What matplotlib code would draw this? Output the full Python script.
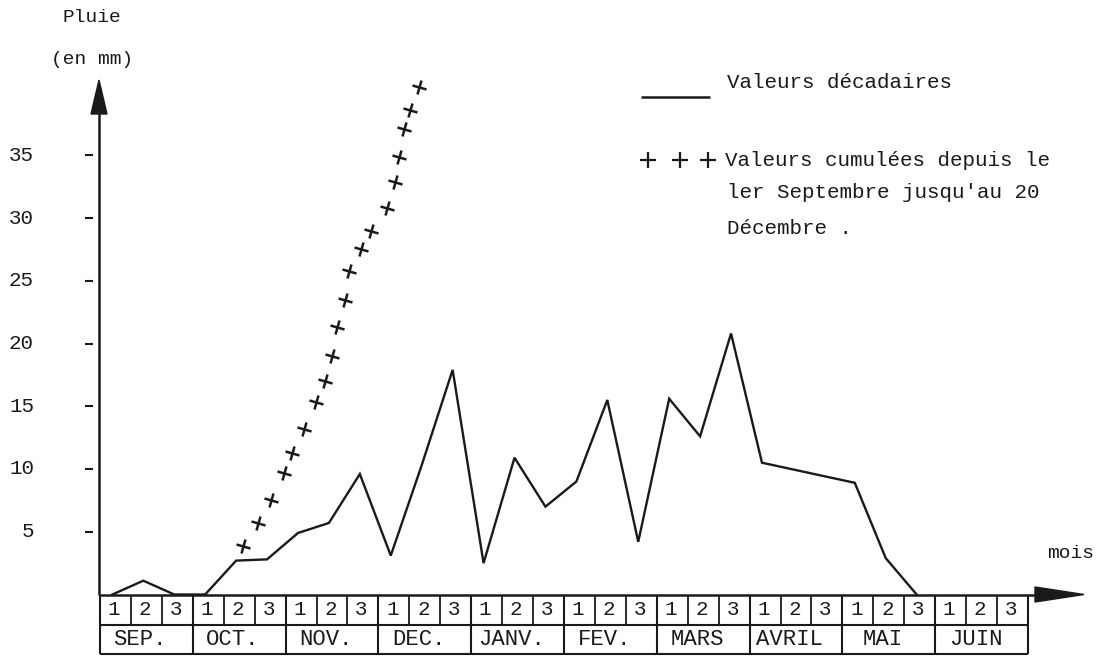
import numpy as np
import matplotlib
matplotlib.use("Agg")
import matplotlib.pyplot as plt
from matplotlib.transforms import Affine2D
from matplotlib.markers import MarkerStyle
from matplotlib.patches import Polygon

# ---------------- data ----------------
months = ["SEP.", "OCT.", "NOV.", "DEC.", "JANV.", "FEV.", "MARS", "AVRIL", "MAI", "JUIN"]
decade_labels = ["1", "2", "3"]
# 10-day rainfall (mm), Sep 1st decade .. June 3rd decade (None = not drawn)
decadal_mm = [0.0, 1.1, 0.0,      # SEP
              0.0, 2.7, 2.8,      # OCT
              4.9, 5.7, 9.6,      # NOV
              3.1, 10.3, 17.9,    # DEC
              2.5, 10.9, 7.0,     # JANV
              9.0, 15.5, 4.2,     # FEV
              15.6, 12.6, 20.8,   # MARS
              10.5, None, None,   # AVRIL
              8.9, 2.9, 0.0,      # MAI
              None, None, None]   # JUIN
# cumulated rainfall crosses (x in decades from 1 Sept, y in mm)
cum_x = [4.63, 5.12, 5.53, 5.95, 6.20, 6.61, 6.98, 7.27, 7.51, 7.67,
         7.92, 8.05, 8.44, 8.76, 9.27, 9.54, 9.68, 9.83, 10.02, 10.31]
cum_mm = [3.9, 5.7, 7.5, 9.7, 11.3, 13.2, 15.3, 17.0, 19.0, 21.3,
          23.5, 25.8, 27.5, 29.0, 30.8, 32.9, 34.9, 37.1, 38.6, 40.4]
yticks = [5, 10, 15, 20, 25, 30, 35]

# ---------------- layout ----------------
W, H = 1105, 656
FONT = "Liberation Mono"
INK = "#1a1a1a"
fig = plt.figure(figsize=(W / 100, H / 100), dpi=100)
fig.patch.set_facecolor("white")

X0, X1 = 100.0, 1028.0      # pixel x of decade 0 and decade 30
Y0, PXMM, YTOP = 594.5, 12.55, 80.0
n_dec = 3 * len(months)
ax = fig.add_axes([X0 / W, (H - Y0) / H, (X1 - X0) / W, (Y0 - YTOP) / H])
ax.set_xlim(0, n_dec)
ax.set_ylim(0, (Y0 - YTOP) / PXMM)
ax.axis("off")


def dx(px):
    return (px - X0) / (X1 - X0) * n_dec


def dy(py):
    return (Y0 - py) / PXMM


def line(xs, ys, lw=1.6, **kw):
    ax.plot(xs, ys, color=INK, lw=lw, clip_on=False, solid_capstyle="butt", **kw)


def txt(px, py, s, size=15, ha="center", va="center"):
    ax.text(dx(px), dy(py), s, fontsize=size, family=FONT, color=INK,
            ha=ha, va=va, clip_on=False)


# ---------------- axes with arrows ----------------
# y axis
line([dx(99), dx(99)], [0, dy(112)], lw=1.8)
ax.add_patch(Polygon([[dx(99), dy(80)], [dx(91), dy(114)], [dx(107), dy(114)]],
                     closed=True, facecolor=INK, edgecolor=INK, clip_on=False))
# x axis
line([0, dx(1040)], [0, 0], lw=1.8)
ax.add_patch(Polygon([[dx(1084), 0], [dx(1035), dy(587)], [dx(1035), dy(602)]],
                     closed=True, facecolor=INK, edgecolor=INK, clip_on=False))

# y ticks (detached dashes) and labels
for t in yticks:
    line([dx(85), dx(93)], [t, t], lw=1.5)
    txt(34, Y0 - t * PXMM, str(t), size=15, ha="right")

txt(92, 18, "Pluie", size=14)
txt(92, 60, "(en mm)", size=14)
txt(1071, 553, "mois", size=14)

# ---------------- table of decades / months ----------------
y_row1 = dy(625)
y_row2 = dy(654)
line([0, n_dec], [y_row1, y_row1], lw=1.5)
line([0, n_dec], [y_row2, y_row2], lw=1.5)
for k in range(n_dec + 1):
    if k % 3 == 0:
        line([k, k], [0, y_row2], lw=1.5)
    else:
        line([k, k], [0, y_row1], lw=1.3)
for m, name in enumerate(months):
    for d, lab in enumerate(decade_labels):
        k = 3 * m + d
        ax.text(k + 0.45, (0 + y_row1) / 2, lab, fontsize=15, family=FONT,
                color=INK, ha="center", va="center", clip_on=False)
    ax.text(3 * m + 1.3, (y_row1 + y_row2) / 2, name, fontsize=16, family=FONT,
            color=INK, ha="center", va="center", clip_on=False)

# ---------------- data marks ----------------
xs = np.arange(n_dec) + 0.4
vals = np.array([np.nan if v is None else v for v in decadal_mm], dtype=float)
ok = ~np.isnan(vals)
ax.plot(xs[ok], vals[ok], color=INK, lw=1.7, clip_on=False, solid_joinstyle="miter")

cross = MarkerStyle("+", transform=Affine2D().rotate_deg(-15))
ax.plot(cum_x, cum_mm, linestyle="none", marker=cross, markersize=11,
        markeredgewidth=1.8, color=INK, clip_on=False)

# ---------------- legend ----------------
line([dx(641), dx(710)], [dy(97), dy(97)], lw=1.8)
txt(727, 83, "Valeurs décadaires", size=15, ha="left")
ax.plot([dx(648), dx(680), dx(708)], [dy(160)] * 3, linestyle="none", marker="+",
        markersize=12, markeredgewidth=1.6, color=INK, clip_on=False)
txt(725, 160, "Valeurs cumulées depuis le", size=15, ha="left")
txt(727, 193, "ler Septembre jusqu'au 20", size=15, ha="left")
txt(727, 229, "Décembre .", size=15, ha="left")

fig.savefig("out.png", dpi=100, facecolor="white")
